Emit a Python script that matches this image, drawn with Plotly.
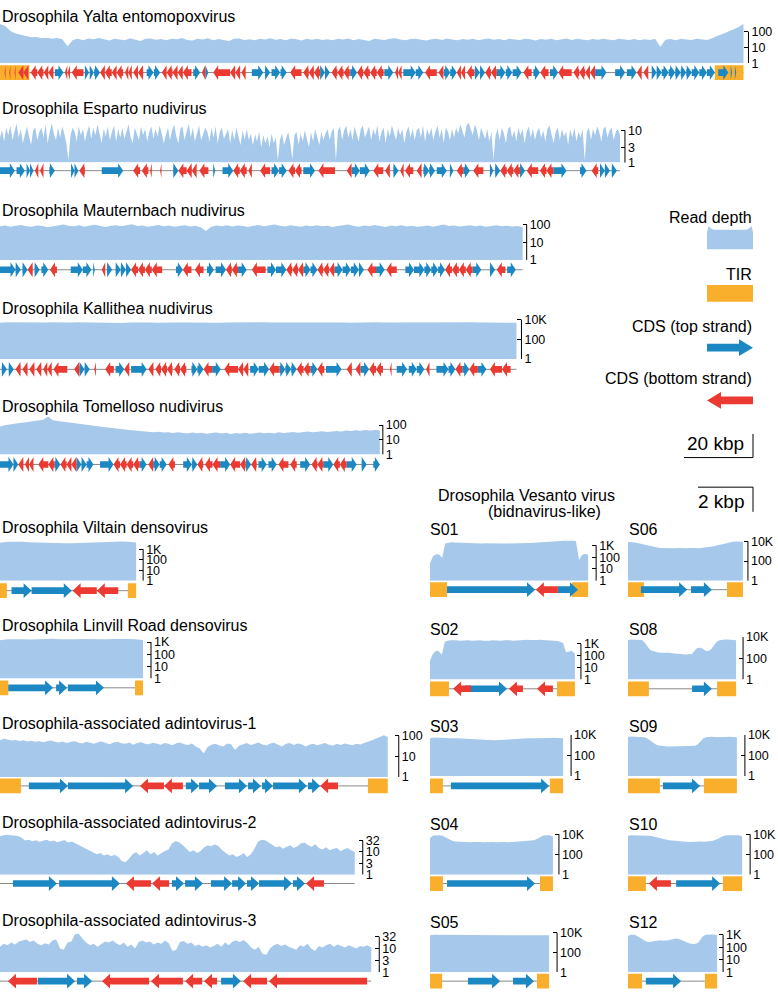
import numpy as np
import plotly.graph_objects as go

W, H = 778, 997
FONT = 'Liberation Sans, Arial, sans-serif'
COV_COLOR = '#a6c9eb'
TOP_COLOR = '#1b87c3'
BOT_COLOR = '#ea3a32'
TIR_COLOR = '#f9ae2c'
LINE_COLOR = '#8a8a8a'

# ------------------------------------------------------------------
# Data: genome lengths (kbp), read depth profiles, TIRs and CDS
# ------------------------------------------------------------------

yalta_len = 215.5
yalta_cov = [300, 230, 110, 75, 62, 55, 44, 46, 38, 41, 36, 39, 33, 12,
             30, 35, 29, 37, 33, 39, 31, 27, 36, 34,
             29, 38, 32, 26, 35, 37, 31, 34, 28, 36,
             33, 40, 30, 27, 36, 32, 38, 29, 34, 31,
             26, 35, 37, 30, 33, 28, 36, 32, 38, 31,
             34, 29, 37, 33, 27, 35, 31, 36, 30, 33,
             28, 35, 32, 37, 29, 34, 31, 26, 36, 33,
             30, 35, 38, 32, 29, 34, 36, 31, 27, 33,
             35, 30, 37, 32, 28, 34, 31, 36, 29, 33,
             37, 31, 34, 28, 35, 32, 30, 36, 33, 27,
             34, 31, 36, 29, 33, 37, 30, 35, 32, 28,
             34, 31, 36, 33, 29, 35, 32, 30, 34, 28,
             33, 30, 35, 11, 31, 34, 29, 36, 32, 30,
             35, 33, 30, 38, 55, 70, 95, 130, 190, 300]
yalta_tir = [(0, 8.5), (207.2, 215.5)]
yalta_cds = [
    (1.3, 1.6, -1), (2.7, 3.0, -1), (4.2, 4.5, -1), (5.3, 6.8, -1), (6.8, 8.2, -1),
    (8.9, 10.8, -1), (10.8, 12.6, -1), (12.7, 14.0, -1), (14.0, 15.5, -1), (15.9, 18.4, 1),
    (18.8, 19.5, -1), (19.6, 20.3, -1), (20.8, 24.2, -1), (24.6, 25.8, 1), (26.0, 27.2, 1),
    (27.3, 29.0, 1), (29.0, 30.4, -1), (30.4, 32.4, -1), (32.4, 33.8, -1), (33.8, 35.7, -1),
    (36.2, 37.2, -1), (37.2, 38.2, -1), (38.6, 40.0, -1), (40.0, 41.5, -1), (42.5, 44.5, 1),
    (44.6, 46.4, 1), (46.9, 48.3, -1), (48.3, 50.0, -1), (50.0, 51.5, -1), (51.5, 53.0, -1),
    (53.0, 55.5, -1), (56.0, 58.0, 1), (58.5, 59.5, -1), (59.5, 60.4, 1), (61.8, 66.7, -1),
    (66.7, 68.2, -1), (68.2, 69.6, -1), (70.0, 71.2, -1), (73.0, 76.3, 1), (76.8, 78.3, 1),
    (78.7, 81.2, 1), (81.3, 83.1, 1), (84.1, 87.4, -1), (87.9, 89.5, -1), (89.5, 91.0, -1),
    (91.0, 92.8, -1), (92.8, 94.2, 1), (94.2, 95.6, 1), (96.1, 97.8, -1), (97.8, 99.6, -1),
    (99.6, 101.4, -1), (101.5, 103.5, 1), (103.5, 105.3, -1), (105.3, 107.2, -1), (107.3, 109.2, -1),
    (109.2, 111.2, -1), (111.4, 114.0, 1), (114.5, 115.4, -1), (115.4, 116.4, -1), (116.9, 120.5, 1),
    (120.5, 122.7, 1), (123.2, 126.6, -1), (127.1, 128.5, -1), (128.6, 130.5, 1), (130.5, 132.4, 1),
    (132.4, 133.6, -1), (133.6, 134.8, -1), (135.3, 137.5, -1), (137.6, 139.1, 1), (139.1, 140.6, 1),
    (140.6, 142.3, -1), (142.3, 144.0, -1), (144.0, 146.5, 1), (146.6, 148.5, 1), (148.6, 151.2, 1),
    (151.7, 154.1, -1), (154.6, 156.5, 1), (156.6, 159.0, -1), (159.4, 161.8, 1), (161.8, 165.7, -1),
    (166.2, 167.9, -1), (167.9, 169.6, -1), (169.6, 171.0, -1), (171.0, 172.5, -1), (172.5, 175.8, 1),
    (178.3, 181.2, 1), (181.7, 184.5, 1), (184.6, 186.0, -1), (186.5, 187.9, -1), (188.9, 190.3, 1),
    (190.3, 191.8, 1), (191.8, 193.8, 1), (193.8, 195.7, 1), (195.7, 197.3, 1), (197.3, 198.9, 1),
    (198.9, 200.5, 1), (200.5, 202.7, 1), (202.7, 204.9, 1), (204.9, 207.2, 1), (208.2, 211.1, 1),
    (211.8, 212.2, 1), (213.0, 213.4, 1)]

esparto_len = 179.7
esparto_cov = [6, 10, 4.5, 12, 7, 14, 5, 9, 16, 6, 11, 4, 8, 13, 6.5, 3.5, 10, 12, 5, 9,
               12, 6, 15, 4, 9, 16, 7.5, 5, 12, 6, 13, 8, 4, 1.2, 7, 12, 9, 4.5, 13, 7,
               11, 4.5, 9, 14, 5.5, 12, 7, 15, 8, 4, 11, 6.5, 13, 5, 9, 14, 4.5, 11, 6, 12,
               5.5, 10, 15, 6, 4, 12, 8, 5, 13, 7, 11, 4.5, 9, 13, 5.5, 11, 6.5, 14, 8, 4,
               7, 12, 5, 10, 15, 6.5, 4, 11, 13, 5, 9, 16, 6, 12, 4.5, 9, 14, 5, 8, 12,
               9, 4.5, 12, 6, 13, 4, 9, 12, 5.5, 8, 11, 4, 10, 5, 12, 6.5, 3.5, 10, 5, 11,
               5, 8, 3.5, 7.5, 4.5, 9, 3, 7, 4, 6.5, 3, 8, 4, 6, 1.2, 5, 8, 3.5, 6, 9,
               4, 1.3, 7, 9, 3.5, 8, 4.5, 10, 5.5, 3, 8.5, 4.5, 11, 6, 3.5, 9, 5, 8, 11, 5,
               9, 12, 1.2, 10, 13, 5, 10, 14, 6, 11, 5, 13, 8, 4.5, 11, 14, 6, 9, 13, 5,
               11, 7, 14, 4.5, 9, 12, 4, 11, 6.5, 14, 9, 5, 12, 7, 11, 4, 9, 13, 6, 11,
               5, 10, 12, 6, 14, 4.5, 11, 7, 12, 5, 9, 14, 6, 11, 4, 12, 9, 5, 11, 6,
               12, 8, 15, 10, 6, 14, 17, 11, 7, 15, 10, 5, 12, 8, 5.5, 11, 4.5, 9, 1.2, 7,
               11, 5, 12, 8, 4, 11, 13, 6, 10, 4.5, 12, 7, 11, 4, 9, 13, 6, 11, 5, 9,
               12, 6, 10, 4.5, 11, 14, 7, 4, 9, 12, 5, 11, 6.5, 9, 3.5, 11, 6, 12, 4.5, 9,
               6, 11, 1.2, 9, 12, 5, 11, 7, 13, 9, 4.5, 11, 13, 6, 10, 12, 5, 9, 11, 7]
esparto_cds = [
    (0, 4.3, 1), (4.8, 7.2, 1), (7.7, 8.7, 1), (8.7, 9.7, 1), (10.1, 11.1, -1), (11.6, 12.6, -1),
    (14.3, 15.9, 1), (20.6, 21.6, 1), (21.6, 22.7, 1), (23.0, 24.6, -1), (29.5, 35.7, 1),
    (38.6, 40.6, -1), (41.1, 43.0, -1), (43.5, 44.0, -1), (46.4, 46.8, -1), (50.2, 51.7, 1),
    (51.7, 54.1, -1), (54.1, 55.6, -1), (55.6, 57.0, -1), (57.8, 60.4, -1), (61.8, 62.4, 1),
    (64.5, 67.6, 1), (67.6, 69.5, -1), (69.5, 71.5, -1), (72.0, 73.0, -1), (75.4, 78.3, -1),
    (78.7, 80.9, 1), (80.9, 83.1, 1), (83.6, 85.5, -1), (85.5, 87.4, -1), (87.9, 91.3, 1),
    (92.3, 97.1, -1), (100.5, 101.9, -1), (101.9, 104.3, 1), (104.3, 107.2, 1), (108.2, 111.1, -1),
    (111.6, 113.0, -1), (114.0, 115.5, 1), (116.0, 117.0, -1), (117.4, 119.8, -1), (120.8, 122.2, -1),
    (122.7, 124.4, 1), (124.4, 126.1, 1), (126.6, 129.5, 1), (130.4, 131.4, 1), (132.4, 134.3, -1),
    (134.3, 136.2, 1), (137.2, 140.1, -1), (142.0, 143.0, 1), (143.5, 145.0, 1), (145.0, 146.9, -1),
    (146.9, 148.8, -1), (148.8, 150.7, -1), (150.7, 152.2, 1), (152.7, 156.0, -1), (156.5, 158.4, -1),
    (158.4, 160.4, -1), (160.4, 164.2, 1), (168.1, 170.0, 1), (171.5, 173.4, -1), (173.9, 175.3, 1),
    (175.3, 176.8, 1), (177.3, 178.8, 1)]

maut_len = 151.5
maut_cov = [85, 95, 80, 90, 100, 85, 78, 92, 88, 75,
            82, 95, 105, 90, 86, 98, 80, 93, 102, 88,
            76, 90, 97, 84, 92, 110, 88, 95, 80, 86,
            100, 85, 92, 78, 88, 96, 83, 90, 74, 45,
            80, 92, 86, 98, 82, 95, 88, 76, 90, 100,
            85, 93, 108, 90, 82, 96, 88, 79, 92, 86,
            98, 84, 90, 77, 88, 95, 105, 87, 80, 93,
            85, 99, 88, 76, 92, 84, 96, 82, 89, 78,
            86, 93, 80, 91, 105, 88, 95, 83, 90, 98,
            84, 92, 79, 88, 96, 85, 90, 82, 88, 76]
maut_cds = [
    (0, 4.5, 1), (4.5, 6.0, 1), (6.5, 8.0, 1), (8.0, 9.5, -1), (10.0, 11.5, 1), (12.0, 14.0, 1),
    (14.5, 16.5, -1), (20.5, 24.0, 1), (24.0, 26.5, 1), (27.0, 27.5, 1), (29.5, 30.5, -1),
    (31.0, 32.5, 1), (33.5, 35.0, 1), (35.0, 36.5, 1), (36.5, 38.0, 1), (38.0, 40.0, -1),
    (40.0, 42.0, -1), (42.0, 44.0, -1), (44.0, 47.0, -1), (51.0, 53.0, 1), (53.0, 55.5, -1),
    (56.5, 59.0, -1), (60.0, 62.0, 1), (62.5, 65.5, 1), (65.5, 67.2, -1), (67.2, 69.0, -1),
    (69.0, 71.5, 1), (73.0, 77.0, -1), (77.5, 80.0, 1), (80.0, 83.0, 1), (83.0, 84.7, -1),
    (84.7, 86.4, -1), (86.4, 88.0, -1), (88.0, 90.0, 1), (90.0, 92.0, 1), (92.0, 93.7, -1),
    (93.7, 95.4, -1), (95.4, 97.0, -1), (97.0, 99.3, 1), (99.3, 101.7, 1), (101.7, 104.0, 1),
    (104.0, 105.5, 1), (106.5, 109.0, -1), (109.0, 111.5, 1), (112.0, 115.0, -1), (117.5, 120.0, 1),
    (120.0, 123.0, 1), (123.0, 125.0, 1), (125.0, 127.0, 1), (127.0, 129.0, 1), (129.0, 131.0, -1),
    (131.0, 133.0, -1), (133.0, 135.0, -1), (135.0, 137.0, -1), (137.0, 139.5, 1), (142.0, 143.5, 1),
    (144.0, 146.5, -1), (147.0, 149.5, 1)]

kall_len = 149.7
kall_cov = [4800, 5200, 5000, 5300, 4900, 5100, 5200, 4700, 5000, 5300,
            5100, 4900, 5200, 5000, 4600, 5100, 5300, 5000, 4800, 5200,
            5000, 5100, 4900, 5200, 5000, 4800, 5100, 5300, 5000, 4900,
            5200, 5000, 5100, 4700, 5000, 5200, 4900, 5100, 5300, 5000,
            4800, 5100, 5000, 5200, 4900, 5000, 5100, 4700, 5000, 5200,
            5100, 4900, 5200, 5000, 5300, 5100, 4900, 5200, 5000, 4800]
kall_cds = [
    (0.5, 2.0, 1), (2.5, 4.0, 1), (4.5, 6.0, -1), (6.5, 8.0, -1), (8.5, 10.0, -1), (10.5, 12.0, -1),
    (12.5, 13.7, -1), (13.7, 15.0, -1), (15.5, 19.5, -1), (21.5, 23.0, -1), (23.0, 24.5, 1),
    (24.5, 26.0, 1), (27.3, 27.8, -1), (30.5, 33.0, -1), (33.5, 36.0, 1), (36.0, 37.5, -1),
    (38.0, 42.5, 1), (43.0, 44.5, -1), (45.0, 46.7, -1), (46.7, 48.4, -1), (48.4, 50.0, -1),
    (50.5, 52.2, -1), (52.2, 54.0, -1), (55.5, 57.2, 1), (57.2, 59.0, 1), (59.0, 61.5, -1),
    (61.5, 64.0, 1), (65.0, 69.0, -1), (69.0, 70.5, -1), (70.5, 72.0, -1), (72.5, 75.0, 1),
    (75.0, 78.0, 1), (78.0, 81.0, -1), (81.0, 82.7, 1), (82.7, 84.4, 1), (84.4, 86.0, 1),
    (86.0, 88.0, -1), (88.0, 90.0, -1), (90.0, 92.0, 1), (92.0, 94.0, -1), (94.5, 99.0, 1),
    (100.5, 102.0, -1), (103.0, 104.5, -1), (104.5, 107.0, 1), (107.0, 109.0, -1), (109.0, 111.0, -1),
    (113.0, 113.5, -1), (115.0, 118.0, 1), (118.5, 120.8, 1), (120.8, 123.0, 1), (123.5, 124.5, -1),
    (126.5, 130.0, 1), (130.0, 132.0, 1), (132.0, 134.0, -1), (134.0, 136.0, 1), (136.0, 138.5, -1),
    (138.5, 141.0, 1), (142.0, 145.5, -1), (145.5, 148.0, -1)]

tom_len = 110.1
tom_cov = [80, 95, 110, 120, 140, 150, 170, 190, 200, 230,
           380, 210, 190, 170, 150, 140, 125, 115, 100, 95,
           85, 78, 70, 64, 60, 55, 50, 46, 42, 40,
           36, 38, 33, 35, 31, 33, 29, 32, 30, 27,
           31, 28, 30, 26, 29, 31, 27, 30, 25, 29,
           27, 30, 26, 29, 31, 28, 30, 27, 32, 29,
           31, 34, 30, 33, 36, 32, 35, 38, 34, 37,
           40, 36, 42, 39, 44, 41, 46, 43, 47, 45]
tom_cds = [
    (0, 3.9, 1), (3.9, 5.3, 1), (5.3, 6.8, -1), (7.2, 8.4, -1), (8.4, 9.7, -1), (11.1, 14.0, -1),
    (14.0, 15.8, -1), (15.8, 17.5, 1), (17.5, 19.3, -1), (19.3, 20.7, -1), (20.7, 22.2, -1),
    (22.2, 23.6, 1), (23.6, 25.1, 1), (25.1, 27.1, 1), (29.0, 32.9, 1), (32.9, 34.8, -1),
    (34.8, 36.7, -1), (36.7, 38.6, -1), (38.6, 40.5, -1), (40.5, 42.5, 1), (43.0, 44.4, -1),
    (44.4, 46.3, 1), (46.3, 48.3, 1), (48.8, 50.7, -1), (53.1, 55.6, 1), (55.6, 57.2, 1),
    (57.2, 58.9, -1), (59.4, 61.6, -1), (61.6, 63.8, -1), (63.8, 66.7, 1), (66.7, 69.6, -1),
    (69.6, 71.2, -1), (71.2, 72.8, 1), (72.8, 74.4, -1), (74.9, 77.3, 1), (77.8, 80.2, 1),
    (80.7, 83.6, -1), (84.1, 86.0, -1), (87.0, 89.9, 1), (90.3, 92.0, -1), (92.0, 93.7, -1),
    (93.7, 96.6, 1), (96.6, 98.5, -1), (98.5, 100.5, -1), (100.5, 103.4, 1), (104.8, 106.3, 1),
    (108.2, 110.1, 1)]

viltain_len = 4.95
viltain_cov = [4000, 5000, 5300, 5000, 4600, 4300, 4000, 3800, 3600, 3600,
               3700, 3900, 4300, 4800, 5300, 5600, 5500, 5300, 5000, 4200]
viltain_tir = [(0, 0.25), (4.65, 4.95)]
viltain_cds = [(0.42, 1.15, 1), (1.15, 2.61, 1), (2.64, 3.52, -1), (3.52, 4.30, -1)]

linvill_len = 5.2
linvill_cov = [1400, 1700, 1800, 1700, 1600, 1700, 1800, 1900, 1700, 1600,
               1700, 1800, 1700, 1600, 1700, 1800, 1900, 1800, 1700, 1500]
linvill_tir = [(0, 0.3), (4.91, 5.2)]
linvill_cds = [(0.3, 1.93, 1), (2.04, 2.44, 1), (2.47, 3.78, 1)]

adinto1_len = 14.1
adinto1_cov = [60, 70, 65, 58, 62, 55, 60, 52, 57, 50,
               55, 48, 53, 58, 50, 46, 52, 44, 49, 54,
               47, 42, 50, 45, 40, 48, 52, 44, 38, 46,
               50, 43, 40, 47, 36, 44, 48, 41, 38, 45,
               42, 36, 44, 40, 34, 43, 46, 38, 35, 42,
               30, 24, 14, 28, 36, 40, 33, 30, 42, 38,
               20, 32, 38, 44, 35, 40, 46, 37, 33, 42,
               45, 36, 30, 40, 44, 35, 42, 38, 30, 36,
               41, 34, 38, 44, 36, 32, 40, 35, 42, 38,
               34, 40, 37, 44, 50, 60, 72, 90, 105, 85]
adinto1_tir = [(0, 0.76), (13.38, 14.1)]
adinto1_cds = [(1.05, 2.47, 1), (2.47, 4.84, 1), (5.09, 5.96, -1), (5.96, 6.65, -1), (6.76, 7.24, 1),
               (7.24, 7.89, 1), (8.18, 8.98, 1), (9.02, 9.49, 1), (9.53, 9.93, 1), (9.93, 11.16, 1),
               (11.2, 11.64, 1), (11.64, 12.29, -1)]

adinto2_len = 12.9
adinto2_cov = [50, 55, 58, 55, 52, 50, 42, 32, 35, 30,
               33, 28, 31, 35, 29, 32, 27, 30, 34, 26,
               29, 24, 20, 16, 14, 12, 10, 8, 9, 7,
               8, 6.5, 7.5, 6, 4, 3.5, 5, 8, 10, 7,
               9, 12, 8, 10, 7, 9, 11, 13, 24, 30,
               27, 20, 14, 10, 12, 9, 11, 16, 20, 18,
               22, 18, 12, 9, 7, 8, 6, 7, 9, 6,
               8, 14, 28, 35, 33, 26, 20, 16, 18, 14,
               17, 20, 15, 18, 24, 26, 20, 17, 22, 15,
               13, 16, 12, 14, 15, 11, 13, 15, 12, 10]
adinto2_cds = [(0.47, 2.07, 1), (2.15, 4.36, 1), (4.58, 5.49, -1), (5.53, 6.15, -1), (6.25, 6.69, 1),
               (6.73, 7.38, 1), (7.67, 8.44, 1), (8.44, 8.95, 1), (8.98, 9.42, 1), (9.42, 10.62, 1),
               (10.65, 11.09, 1), (11.13, 11.78, -1)]

adinto3_len = 13.5
adinto3_cov = [12, 16, 14, 18, 15, 20, 22, 24, 19, 22,
               16, 14, 17, 15, 22, 24, 10, 9, 18, 20,
               40, 42, 26, 18, 14, 16, 12, 15, 20, 18,
               22, 17, 14, 18, 12, 15, 10, 19, 22, 18,
               20, 15, 18, 16, 22, 17, 8, 9, 19, 21,
               16, 18, 13, 15, 12, 14, 11, 13, 16, 12,
               18, 14, 20, 22, 19, 23, 17, 11, 9, 12,
               6, 5.5, 10, 14, 16, 13, 15, 12, 10, 9,
               14, 12, 16, 10, 8, 13, 11, 14, 16, 12,
               15, 13, 11, 14, 12, 10, 13, 12, 14, 11]
adinto3_cds = [(0.29, 1.35, -1), (1.38, 2.73, 1), (2.8, 3.35, 1), (3.71, 5.42, -1), (5.49, 6.65, -1),
               (6.73, 7.35, -1), (7.42, 7.89, -1), (8.04, 8.76, 1), (8.84, 9.71, -1), (9.78, 13.35, -1)]

# Drosophila Vesanto virus segments
s01_len = 5.75
s01_cov = [30, 120, 180, 170, 90, 1400, 1700, 1800, 1700, 1650,
           1600, 1650, 1600, 1550, 1500, 1550, 1500, 1450, 1500, 1450,
           1400, 1450, 1400, 1450, 1400, 1450, 1500, 1450, 1500, 1550,
           1500, 1550, 1600, 1550, 1600, 1650, 1700, 1650, 1700, 1800,
           1900, 2000, 2100, 2300, 2500, 2600, 2500, 2400, 2300, 60, 150, 190, 160]
s01_tir = [(0, 0.62), (5.16, 5.75)]
s01_cds = [(0.62, 3.82, 1), (3.85, 4.65, -1), (4.65, 5.38, 1)]

s06_len = 4.18
s06_cov = [8000, 8500, 8000, 7000, 6000, 5000, 4200, 3500, 3000, 2600,
           2400, 2200, 2100, 2000, 2000, 1900, 2000, 2100, 2000, 1900,
           2000, 2100, 2200, 2100, 2000, 2100, 2300, 2500, 2800, 3200,
           3800, 4500, 5500, 6500, 7500, 8500, 9500, 10000, 9500, 9000]
s06_tir = [(0, 0.58), (3.6, 4.18)]
s06_cds = [(0.47, 2.15, 1), (2.29, 3.05, 1)]

s02_len = 5.27
s02_cov = [40, 150, 260, 240, 120, 1500, 1900, 2000, 2100, 2000,
           1900, 2000, 2100, 2000, 1900, 2000, 2100, 2000, 1900, 1800,
           1900, 2000, 1900, 1800, 1900, 2000, 2100, 2000, 1900, 2000,
           2100, 2000, 2100, 2200, 2100, 2000, 2100, 2200, 2100, 2000,
           2100, 2000, 1900, 1800, 1500, 1200, 200, 240, 260, 150]
s02_tir = [(0, 0.69), (4.62, 5.27)]
s02_cds = [(1.27, 2.8, 1), (0.84, 1.49, -1), (2.87, 3.38, -1), (3.89, 4.47, -1)]

s08_len = 3.93
s08_cov = [5000, 5800, 5800, 5500, 5600, 5200, 3000, 1200, 600, 480,
           400, 350, 330, 340, 320, 330, 300, 280, 300, 260,
           240, 230, 250, 240, 500, 900, 1000, 800, 500, 480,
           700, 1500, 3500, 5000, 5800, 6000, 5800, 5600, 5500, 5000]
s08_tir = [(0, 0.76), (3.24, 3.93)]
s08_cds = [(2.33, 3.05, 1)]

s03_len = 4.84
s03_cov = [4500, 5200, 5300, 5000, 5200, 4800, 4600, 4800, 4500, 4200,
           4000, 3800, 3600, 3500, 3300, 3200, 3100, 3000, 3000, 2900,
           3000, 3100, 3000, 3200, 3400, 3600, 3800, 4000, 4200, 4400,
           4600, 4500, 4700, 4800, 4600, 4800, 5000, 4800, 4900, 4500]
s03_tir = [(0, 0.47), (4.36, 4.84)]
s03_cds = [(0.76, 4.33, 1)]

s09_len = 3.96
s09_cov = [6000, 6500, 6300, 6000, 5800, 6000, 5500, 4000, 2500, 1500,
           1100, 900, 800, 750, 720, 700, 720, 750, 700, 680,
           700, 720, 760, 800, 850, 1200, 2500, 4500, 5500, 6000,
           6200, 6000, 5800, 6200, 6000, 5800, 6100, 6200, 6000, 5500]
s09_tir = [(0, 1.16), (2.76, 3.96)]
s09_cds = [(1.27, 2.62, 1)]

s04_len = 4.47
s04_cov = [4000, 7500, 8000, 8000, 7000, 4500, 3000, 2200, 1900, 1800,
           1700, 1800, 1700, 1600, 1700, 1800, 1700, 1600, 1700, 1600,
           1700, 1600, 1700, 1800, 1700, 1600, 1700, 1800, 1700, 1800,
           1900, 2000, 2200, 2600, 3500, 5500, 7500, 8000, 8000, 6000]
s04_tir = [(0, 0.47), (4.0, 4.47)]
s04_cds = [(0.62, 3.82, 1)]

s10_len = 4.15
s10_cov = [7000, 8000, 8000, 7800, 7500, 7600, 7200, 7000, 6500, 5500,
           4500, 3800, 3200, 2800, 2600, 2400, 2200, 2000, 1900, 1800,
           1800, 1700, 1800, 1700, 1800, 1900, 1800, 1900, 2000, 2200,
           2800, 4000, 6000, 7500, 8000, 8200, 8000, 8100, 7800, 6000]
s10_tir = [(0, 0.65), (3.45, 4.15)]
s10_cds = [(0.76, 1.56, -1), (1.75, 3.35, 1)]

s05_len = 4.33
s05_cov = [5800, 6300, 6300, 6200, 6300, 6200, 6300, 6200, 6100, 6200,
           6300, 6200, 6100, 6200, 6300, 6200, 6100, 6200, 6300, 6200,
           6100, 6200, 6300, 6200, 6300, 6200, 6300, 6400, 6300, 5500]
s05_tir = [(0, 0.44), (3.89, 4.33)]
s05_cds = [(1.38, 2.55, 1), (3.02, 3.78, 1)]

s12_len = 3.24
s12_cov = [800, 1000, 1050, 1000, 800, 600, 450, 350, 280, 260,
           280, 300, 320, 340, 360, 350, 330, 340, 380, 420,
           480, 500, 470, 400, 320, 260, 220, 200, 190, 180,
           200, 260, 500, 800, 1000, 1050, 1000, 1050, 1000, 900]
s12_tir = [(0, 0.51), (2.80, 3.24)]
s12_cds = [(0.65, 1.93, 1)]

# depth axis tick labels
ticks_100 = ([1, 10, 100], ['1', '10', '100'])
ticks_10 = ([1, 3, 10], ['1', '3', '10'])
ticks_10k = ([1, 100, 10000], ['1', '100', '10K'])
ticks_1k = ([1, 10, 100, 1000], ['1', '10', '100', '1K'])
ticks_32 = ([1, 3, 10, 32], ['1', '3', '10', '32'])

# legend glyph for read depth (relative units)
legend_depth_x = [0, 0, 0.03, 0.08, 0.14, 0.86, 0.92, 0.97, 1, 1]
legend_depth_y = [0, 0.72, 1.0, 0.9, 0.84, 0.84, 0.9, 1.0, 0.72, 0]
scalebar_big = 20   # kbp
scalebar_small = 2  # kbp

# ------------------------------------------------------------------
# Panel placement (pixels in the 778x997 page)
# ------------------------------------------------------------------
BIG = 69 / 20.0     # px per kbp, large genomes
SMALL = 55 / 2.0    # px per kbp, small genomes

panels = [
    # name, len, cov, tir, cds, ticks, placement
    ('Drosophila Yalta entomopoxvirus', yalta_len, yalta_cov, yalta_tir, yalta_cds, ticks_100,
     dict(x0=0, sc=BIG, base=57, top=15, dec=16, gy=66.5, pad=5, ty=10, tx=0, head=5)),
    ('Drosophila Esparto nudivirus', esparto_len, esparto_cov, [], esparto_cds, ticks_10,
     dict(x0=0, sc=BIG, base=158, top=112, dec=33, gy=166, pad=5, ty=103, tx=0, head=5)),
    ('Drosophila Mauternbach nudivirus', maut_len, maut_cov, [], maut_cds, ticks_100,
     dict(x0=0, sc=BIG, base=256.5, top=214, dec=17.7, gy=266.5, pad=4, ty=206, tx=0, head=5)),
    ('Drosophila Kallithea nudivirus', kall_len, kall_cov, [], kall_cds, ticks_10k,
     dict(x0=0, sc=BIG, base=357, top=315, dec=10, gy=367.5, pad=5, ty=306, tx=0, head=5)),
    ('Drosophila Tomelloso nudivirus', tom_len, tom_cov, [], tom_cds, ticks_100,
     dict(x0=0, sc=BIG, base=454, top=412, dec=15, gy=464, pad=3, ty=405, tx=0, head=5)),
    ('Drosophila Viltain densovirus', viltain_len, viltain_cov, viltain_tir, viltain_cds, ticks_1k,
     dict(x0=0, sc=SMALL, base=582, top=540, dec=10.7, gy=592, pad=7, ty=528, tx=0, head=8)),
    ('Drosophila Linvill Road densovirus', linvill_len, linvill_cov, linvill_tir, linvill_cds, ticks_1k,
     dict(x0=0, sc=SMALL, base=681, top=639, dec=12.3, gy=690.5, pad=8, ty=627, tx=0, head=8)),
    ('Drosophila-associated adintovirus-1', adinto1_len, adinto1_cov, adinto1_tir, adinto1_cds, ticks_100,
     dict(x0=0, sc=SMALL, base=781, top=736, dec=21, gy=790, pad=11, ty=727, tx=0, head=8)),
    ('Drosophila-associated adintovirus-2', adinto2_len, adinto2_cov, [], adinto2_cds, ticks_32,
     dict(x0=0, sc=SMALL, base=880, top=838, dec=23, gy=889, pad=8, ty=827, tx=0, head=8)),
    ('Drosophila-associated adintovirus-3', adinto3_len, adinto3_cov, [], adinto3_cds, ticks_32,
     dict(x0=0, sc=SMALL, base=979, top=937, dec=24, gy=988, pad=8, ty=927, tx=0, head=8)),
    ('S01', s01_len, s01_cov, s01_tir, s01_cds, ticks_1k,
     dict(x0=430, sc=SMALL, base=582, top=540, dec=12, gy=591, pad=8, ty=530, tx=428, head=8)),
    ('S06', s06_len, s06_cov, s06_tir, s06_cds, ticks_10k,
     dict(x0=628, sc=SMALL, base=582, top=540, dec=10, gy=591, pad=5, ty=530, tx=627, head=8)),
    ('S02', s02_len, s02_cov, s02_tir, s02_cds, ticks_1k,
     dict(x0=430, sc=SMALL, base=682, top=640, dec=12, gy=691.5, pad=6, ty=631, tx=428, head=8)),
    ('S08', s08_len, s08_cov, s08_tir, s08_cds, ticks_10k,
     dict(x0=628, sc=SMALL, base=682, top=639, dec=10.75, gy=691.5, pad=7, ty=631, tx=627, head=8)),
    ('S03', s03_len, s03_cov, s03_tir, s03_cds, ticks_10k,
     dict(x0=430, sc=SMALL, base=780, top=738, dec=10.5, gy=790, pad=8, ty=730, tx=428, head=8)),
    ('S09', s09_len, s09_cov, s09_tir, s09_cds, ticks_10k,
     dict(x0=628, sc=SMALL, base=780, top=738, dec=10.5, gy=790, pad=8, ty=730, tx=627, head=8)),
    ('S04', s04_len, s04_cov, s04_tir, s04_cds, ticks_10k,
     dict(x0=430, sc=SMALL, base=880, top=837, dec=10.25, gy=889, pad=6, ty=829, tx=428, head=8)),
    ('S10', s10_len, s10_cov, s10_tir, s10_cds, ticks_10k,
     dict(x0=628, sc=SMALL, base=880, top=837, dec=10.25, gy=889, pad=8, ty=829, tx=627, head=8)),
    ('S05', s05_len, s05_cov, s05_tir, s05_cds, ticks_10k,
     dict(x0=430, sc=SMALL, base=979, top=937, dec=10, gy=988, pad=8, ty=929, tx=428, head=8)),
    ('S12', s12_len, s12_cov, s12_tir, s12_cds, ticks_1k,
     dict(x0=628, sc=SMALL, base=979, top=937, dec=12.7, gy=988, pad=6, ty=929, tx=627, head=8)),
]

# ------------------------------------------------------------------
# helpers
# ------------------------------------------------------------------
fig = go.Figure()
layout = {}
shapes = []
annotations = []
n_axes = [0]


def new_axes():
    n_axes[0] += 1
    return n_axes[0]


def ref(letter, n):
    return letter if n == 1 else '{}{}'.format(letter, n)


def key(letter, n):
    return '{}axis'.format(letter) if n == 1 else '{}axis{}'.format(letter, n)


def text(s, x, y, size=16, anchor='left'):
    annotations.append(dict(text=s, x=x / W, y=1 - y / H, xref='paper', yref='paper',
                            xanchor=anchor, yanchor='middle', showarrow=False,
                            font=dict(size=size, family=FONT, color='black')))


def arrows(cds, strand, head, shaft=0.45):
    xs, ys = [], []
    for s, e, d in cds:
        if d != strand:
            continue
        if d > 0:
            h = max(s, e - head)
            px = [s, h, h, e, h, h, s]
        else:
            h = min(e, s + head)
            px = [e, h, h, s, h, h, e]
        xs += px + [None]
        ys += [-shaft, -shaft, -1, 0, 1, shaft, shaft, None]
    return xs, ys


def boxes(tirs):
    xs, ys = [], []
    for s, e in tirs:
        xs += [s, e, e, s, s, None]
        ys += [-1, -1, 1, 1, -1, None]
    return xs, ys


def poly(xs, ys, color, a):
    fig.add_trace(go.Scatter(x=xs, y=ys, fill='toself', fillcolor=color, mode='lines',
                             line=dict(width=0, color=color), hoverinfo='skip',
                             xaxis=ref('x', a), yaxis=ref('y', a)))


def gene_axes(xdom, xr, yc, half=7.5, m=8.5):
    b = new_axes()
    layout[key('x', b)] = dict(domain=xdom, range=xr, visible=False, anchor=ref('y', b))
    layout[key('y', b)] = dict(domain=[1 - (yc + m) / H, 1 - (yc - m) / H],
                               range=[-m / half, m / half], visible=False, anchor=ref('x', b))
    return b


def add_panel(name, L, cov, tirs, cds, ticks, p):
    sc = p['sc']
    span = L + p['pad'] / sc
    xdom = [p['x0'] / W, (p['x0'] + span * sc) / W]
    xr = [0, span]

    # read depth (log scale)
    a = new_axes()
    layout[key('x', a)] = dict(domain=xdom, range=xr, visible=False, anchor=ref('y', a))
    layout[key('y', a)] = dict(
        domain=[1 - p['base'] / H, 1 - p['top'] / H], type='log',
        range=[0, (p['base'] - p['top']) / p['dec']], anchor=ref('x', a), side='right',
        ticks='inside', ticklen=4, tickwidth=1, tickcolor='black',
        tickvals=ticks[0], ticktext=ticks[1], ticklabelstandoff=2,
        tickfont=dict(size=12.5, family=FONT, color='black'),
        showgrid=False, zeroline=False, showline=False)
    xs = list(np.linspace(0, L, len(cov)))
    poly([0] + xs + [L], [1] + list(cov) + [1], COV_COLOR, a)
    shapes.append(dict(type='line', xref=ref('x', a) + ' domain', x0=1, x1=1,
                       yref=ref('y', a), y0=ticks[0][0], y1=ticks[0][-1],
                       line=dict(color='black', width=1)))

    # genome map
    b = gene_axes(xdom, xr, p['gy'])
    fig.add_trace(go.Scatter(x=[0, L], y=[0, 0], mode='lines', hoverinfo='skip',
                             line=dict(color=LINE_COLOR, width=1),
                             xaxis=ref('x', b), yaxis=ref('y', b)))
    if tirs:
        bx, by = boxes(tirs)
        poly(bx, by, TIR_COLOR, b)
    head = p['head'] / sc
    for strand, color in [(1, TOP_COLOR), (-1, BOT_COLOR)]:
        ax_, ay_ = arrows(cds, strand, head)
        if ax_:
            poly(ax_, ay_, color, b)

    text(name, p['tx'], p['ty'])


for name, L, cov, tirs, cds, ticks, p in panels:
    add_panel(name, L, cov, tirs, cds, ticks, p)

text('Drosophila Vesanto virus', 436, 495)
text('(bidnavirus-like)', 486, 512)

# ------------------------------------------------------------------
# legend
# ------------------------------------------------------------------
LX0, LX1 = 707, 753
text('Read depth', LX1 + 1, 213, anchor='right')
a = new_axes()
layout[key('x', a)] = dict(domain=[LX0 / W, LX1 / W], range=[0, 1], visible=False, anchor=ref('y', a))
layout[key('y', a)] = dict(domain=[1 - 246 / H, 1 - 222 / H], range=[0, 1], visible=False, anchor=ref('x', a))
poly(legend_depth_x, legend_depth_y, COV_COLOR, a)

text('TIR', LX1 + 1, 271, anchor='right')
b = gene_axes([LX0 / W, LX1 / W], [0, 1], 290.5, half=8.5, m=9)
bx, by = boxes([(0, 1)])
poly(bx, by, TIR_COLOR, b)

text('CDS (top strand)', LX1 + 1, 324, anchor='right')
b = gene_axes([LX0 / W, LX1 / W], [0, 1], 345.5, half=8.5, m=9)
ax_, ay_ = arrows([(0, 1, 1)], 1, 14 / 46, shaft=0.47)
poly(ax_, ay_, TOP_COLOR, b)

text('CDS (bottom strand)', LX1 + 1, 377, anchor='right')
b = gene_axes([LX0 / W, LX1 / W], [0, 1], 399, half=8.5, m=9)
ax_, ay_ = arrows([(0, 1, -1)], -1, 14 / 46, shaft=0.47)
poly(ax_, ay_, BOT_COLOR, b)

# scale bars, drawn on axes with the same px/kbp as the panels
for length, sc, y_line, y_end, ly in [(scalebar_big, BIG, 457, 433, 443),
                                      (scalebar_small, SMALL, 487, 512, 502)]:
    a = new_axes()
    x_end = 753
    x_start = x_end - length * sc
    layout[key('x', a)] = dict(domain=[(x_start - 2) / W, (x_end + 2) / W],
                               range=[-2 / sc, length + 2 / sc], visible=False, anchor=ref('y', a))
    top_px, bot_px = min(y_line, y_end) - 2, max(y_line, y_end) + 2
    k = float(y_end - y_line)
    layout[key('y', a)] = dict(domain=[1 - bot_px / H, 1 - top_px / H], visible=False,
                               anchor=ref('x', a),
                               range=[(bot_px - y_line) / k, (top_px - y_line) / k])
    fig.add_trace(go.Scatter(x=[0, length, length], y=[0, 0, 1], mode='lines',
                             line=dict(color='black', width=1), hoverinfo='skip',
                             xaxis=ref('x', a), yaxis=ref('y', a)))
    text('{} kbp'.format(length), 746, ly, size=19, anchor='right')

fig.update_layout(layout)
fig.update_layout(width=W, height=H, margin=dict(l=0, r=0, t=0, b=0),
                  paper_bgcolor='white', plot_bgcolor='white', showlegend=False,
                  shapes=shapes, annotations=annotations,
                  font=dict(family=FONT, color='black'))

fig.write_html('out.html', config={'displayModeBar': False},
               post_script="document.body.style.margin='0px';")
